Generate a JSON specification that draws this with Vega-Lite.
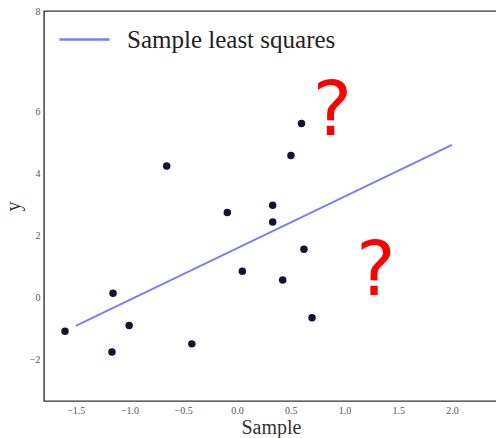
{
  "$schema": "https://vega.github.io/schema/vega-lite/v6.json",
  "width": 454,
  "height": 390,
  "autosize": "none",
  "padding": {"left": 44, "top": 11, "right": 0, "bottom": 37},
  "background": "white",
  "datasets": {
    "pts": [
      {"x": -1.60, "y": -1.07},
      {"x": -1.153, "y": 0.15},
      {"x": -1.163, "y": -1.74},
      {"x": -1.003, "y": -0.89},
      {"x": -0.654, "y": 4.26},
      {"x": -0.42, "y": -1.48},
      {"x": -0.09, "y": 2.76},
      {"x": 0.05, "y": 0.86},
      {"x": 0.332, "y": 2.99},
      {"x": 0.332, "y": 2.45},
      {"x": 0.425, "y": 0.58},
      {"x": 0.502, "y": 4.6},
      {"x": 0.60, "y": 5.63},
      {"x": 0.623, "y": 1.57},
      {"x": 0.698, "y": -0.64}
    ],
    "fit": [
      {"x": -1.5, "y": -0.9, "series": "Sample least squares"},
      {"x": 2.0, "y": 4.94, "series": "Sample least squares"}
    ],
    "qs": [
      {"x": 0.888, "y": 5.26, "t": "?"},
      {"x": 1.293, "y": 0.1, "t": "?"}
    ]
  },
  "layer": [
    {
      "data": {"name": "fit"},
      "mark": {"type": "line", "strokeWidth": 1.8, "clip": true},
      "encoding": {
        "x": {"field": "x", "type": "quantitative"},
        "y": {"field": "y", "type": "quantitative"},
        "color": {
          "field": "series", "type": "nominal",
          "scale": {"domain": ["Sample least squares"], "range": ["#7b7bff"]},
          "legend": {
            "title": null,
            "orient": "none",
            "legendX": 14,
            "legendY": 2,
            "symbolType": "stroke",
            "symbolSize": 2500,
            "symbolStrokeWidth": 2.4,
            "labelFont": "Liberation Serif",
            "labelFontSize": 25,
            "labelColor": "#222",
            "labelOffset": 16,
            "labelLimit": 400,
            "padding": 0
          }
        }
      }
    },
    {
      "data": {"name": "pts"},
      "mark": {"type": "circle", "size": 56, "opacity": 1, "color": "#15132f"},
      "encoding": {
        "x": {"field": "x", "type": "quantitative"},
        "y": {"field": "y", "type": "quantitative"}
      }
    },
    {
      "data": {"name": "qs"},
      "mark": {"type": "text", "font": "DejaVu Sans", "fontSize": 74, "color": "#ff0000", "align": "center", "baseline": "alphabetic"},
      "encoding": {
        "x": {"field": "x", "type": "quantitative"},
        "y": {"field": "y", "type": "quantitative"},
        "text": {"field": "t"}
      }
    }
  ],
  "resolve": {"scale": {"x": "shared", "y": "shared"}},
  "encoding": {
    "x": {
      "field": "x", "type": "quantitative",
      "scale": {"domain": [-1.7953, 2.428], "nice": false, "zero": false},
      "axis": {
        "title": "Sample",
        "values": [-1.5, -1, -0.5, 0, 0.5, 1, 1.5, 2],
        "format": ".1f",
        "titleFontSize": 20,
        "titlePadding": 2
      }
    },
    "y": {
      "field": "y", "type": "quantitative",
      "scale": {"domain": [-3.323, 9.258], "nice": false, "zero": false},
      "axis": {
        "title": "y",
        "values": [-2, 0, 2, 4, 6, 9.258],
        "labelExpr": "datum.value > 8 ? '8' : datum.label",
        "format": "d",
        "titleFontSize": 20,
        "titlePadding": 6
      }
    }
  },
  "config": {
    "view": {"stroke": "#333333", "strokeWidth": 1.4},
    "axis": {
      "domain": false,
      "ticks": false,
      "grid": false,
      "labelFont": "Liberation Serif",
      "labelFontSize": 10,
      "labelColor": "#555555",
      "labelPadding": 4,
      "titleFont": "Liberation Serif",
      "titleFontWeight": "normal",
      "titleColor": "#333333",
      "labelOverlap": false
    }
  }
}
